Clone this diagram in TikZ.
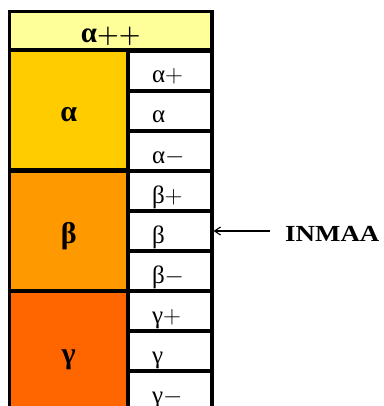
\documentclass[tikz,border=0pt]{standalone}
\usepackage{fontspec}
\setmainfont{Liberation Serif}
\usetikzlibrary{arrows.meta}
\definecolor{hdr}{HTML}{FFFF99}
\definecolor{ca}{HTML}{FFCC00}
\definecolor{cb}{HTML}{FF9900}
\definecolor{cg}{HTML}{FF6600}
\newcommand{\pl}{$+$}
\newcommand{\mn}{$-$}
\tikzset{
  cellbase/.style={draw=black, line width=3.1pt, inner sep=0pt, outer sep=0pt, anchor=north west},
  hdrcell/.style={cellbase, fill=hdr, minimum width=202.5pt, minimum height=38.5pt,
     text height=31.5pt, text depth=7pt, font=\fontsize{29}{29}\selectfont\bfseries\boldmath},
  bigcell/.style={cellbase, fill=#1, minimum width=118.5pt, minimum height=120pt,
     text height=72pt, text depth=48pt, font=\fontsize{30}{30}\selectfont\bfseries},
  subcell/.style={cellbase, fill=white, minimum width=84pt, minimum height=40pt,
     text height=32pt, text depth=8pt, text width=36pt, align=left,
     font=\fontsize{25}{25}\selectfont},
  pointer/.style={line width=1.1pt, -{Straight Barb[length=6pt,width=8pt]}},
  lbl/.style={inner sep=0pt, anchor=base west, font=\fontsize{23}{23}\selectfont\bfseries}
}
\begin{document}
\begin{tikzpicture}[x=1pt,y=-1pt]
\useasboundingbox (0,0) rectangle (383,406);
\begin{scope}
\clip (0,0) rectangle (383,406);
\node[hdrcell] (hdr) at (9.5,11.5) {α\pl\pl};
\node[bigcell=ca] (A) at (9.5,50) {α};
\node[bigcell=cb] (B) at (9.5,171) {β};
\node[bigcell=cg] (G) at (9.5,291) {γ};
\node[subcell] (a1) at (128,51) {α\pl};
\node[subcell] (a2) at (128,91) {α};
\node[subcell] (a3) at (128,131) {α\mn};
\node[subcell] (b1) at (128,171) {β\pl};
\node[subcell] (b2) at (128,211) {β};
\node[subcell] (b3) at (128,251) {β\mn};
\node[subcell] (g1) at (128,291) {γ\pl};
\node[subcell] (g2) at (128,331) {γ};
\node[subcell] (g3) at (128,371) {γ\mn};
\end{scope}
\node[lbl] (inm) at (285,241) {\scalebox{1.17}[1]{INMAA}};
\draw[pointer] ([xshift=-15pt]inm.west |- b2.east) -- ([xshift=1.6pt]b2.east);
\end{tikzpicture}
\end{document}
